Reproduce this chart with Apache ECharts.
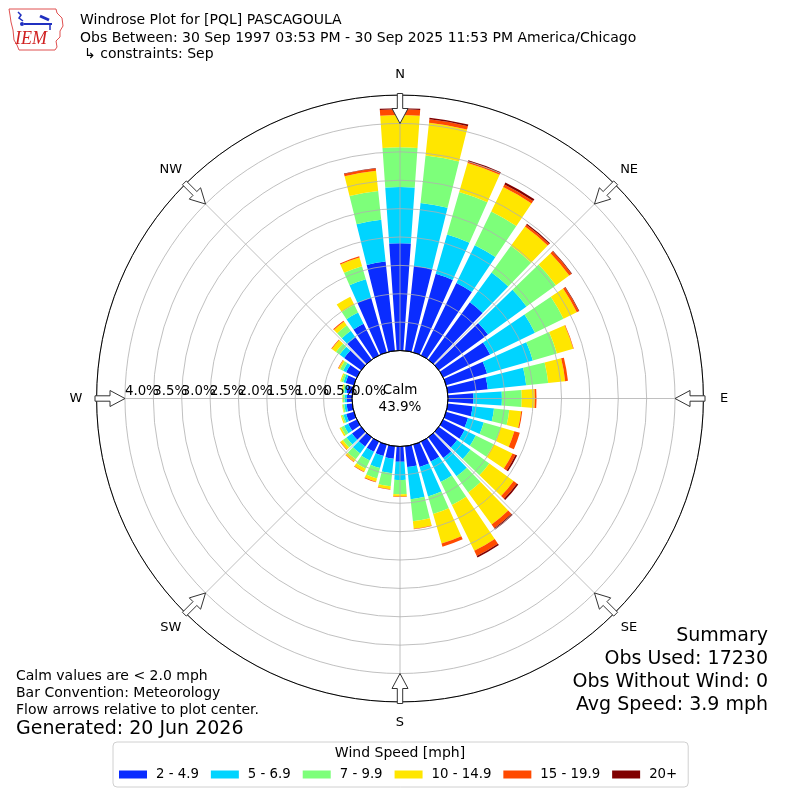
<!DOCTYPE html>
<html><head><meta charset="utf-8">
<script src="https://cdn.jsdelivr.net/npm/echarts@6/dist/echarts.min.js"></script>
<style>html,body{margin:0;padding:0;background:#fff}#c{width:800px;height:800px}</style>
</head><body><div id="c"></div>
<script>
// ---- data (percent of observations), directions every 10 degrees from N clockwise ----
const directions = ['0','10','20','30','40','50','60','70','80','90','100','110','120','130','140','150','160','170',
  '180','190','200','210','220','230','240','250','260','270','280','290','300','310','320','330','340','350'];
const speedBins = ['2 - 4.9','5 - 6.9','7 - 9.9','10 - 14.9','15 - 19.9','20+'];
const binColors = ['#0a2cff','#00d4ff','#7dff7a','#ffe600','#ff4a00','#800000'];
const bin2to5   = [1.89,1.50,1.44,1.42,1.25,1.07,0.92,0.75,0.71,0.45,0.44,0.40,0.42,0.40,0.45,0.39,0.41,0.37,0.27,0.22,0.21,0.20,0.20,0.20,0.17,0.14,0.10,0.09,0.10,0.15,0.21,0.37,0.49,0.62,1.00,1.58];
const bin5to7   = [0.99,1.12,0.72,0.74,0.65,0.84,0.88,0.84,0.68,0.50,0.38,0.29,0.22,0.29,0.40,0.40,0.54,0.57,0.32,0.26,0.22,0.17,0.15,0.12,0.08,0.05,0.04,0.04,0.04,0.04,0.06,0.10,0.14,0.22,0.34,0.74];
const bin7to10  = [0.70,0.84,0.78,0.66,0.58,0.64,0.56,0.44,0.39,0.35,0.27,0.31,0.35,0.41,0.35,0.45,0.32,0.39,0.25,0.23,0.19,0.16,0.13,0.08,0.06,0.03,0.03,0.03,0.03,0.04,0.06,0.08,0.12,0.15,0.24,0.51];
const bin10to15 = [0.57,0.58,0.53,0.48,0.42,0.29,0.26,0.30,0.30,0.23,0.21,0.25,0.37,0.53,0.70,0.90,0.54,0.13,0.04,0.05,0.06,0.06,0.05,0.05,0.03,0.02,0.01,0.01,0.02,0.02,0.03,0.09,0.08,0.16,0.16,0.36];
const bin15to20 = [0.10,0.06,0.03,0.05,0.04,0.05,0.04,0.01,0.05,0.03,0.02,0.10,0.06,0.07,0.08,0.10,0.06,0.01,0.01,0.01,0.01,0.01,0.01,0.01,0,0,0,0,0,0,0.01,0.01,0.02,0,0.02,0.04];
const bin20plus = [0.02,0.03,0.02,0.04,0.02,0.01,0.01,0,0,0,0,0,0.03,0.03,0.03,0.03,0,0,0,0,0,0,0,0,0,0,0,0,0,0,0,0,0,0,0,0.01];
const compassLabels = ['N','NE','E','SE','S','SW','W','NW'];
const calmPct = '43.9%';
const radialMax = 4.5, radialStep = 0.5;

const binData = [bin2to5, bin5to7, bin7to10, bin10to15, bin15to20, bin20plus];

// ---- layout ----
const CX = 400, CY = 398.5, R0 = 48, R1 = 303.4;
const FONT = 'DejaVu Sans';

const chart = echarts.init(document.getElementById('c'), null, {renderer: 'canvas'});

const series = speedBins.map((name, i) => ({
  name, type: 'bar', coordinateSystem: 'polar', polarIndex: 0, stack: 'wind',
  data: binData[i], barCategoryGap: '20%',
  itemStyle: {color: binColors[i]}, emphasis: {disabled: true}, z: 2
}));

const graphics = [];
function txt(x, y, text, size, align, extra) {
  graphics.push(Object.assign({type: 'text', x, y, z: 100, silent: true,
    style: {text, fontFamily: FONT, fontSize: size, fill: '#000',
      align: align || 'left', verticalAlign: 'middle', textAlign: align || 'left', textVerticalAlign: 'middle'}}, extra || {}));
}
// header
txt(80, 20, 'Windrose Plot for [PQL] PASCAGOULA', 14);
txt(80, 38, 'Obs Between: 30 Sep 1997 03:53 PM - 30 Sep 2025 11:53 PM America/Chicago', 14);
txt(84, 54, '\u21b3 constraints: Sep', 14);
// footer notes
txt(16, 676, 'Calm values are < 2.0 mph', 14);
txt(16, 693.5, 'Bar Convention: Meteorology', 14);
txt(16, 710.5, 'Flow arrows relative to plot center.', 14);
txt(16, 729, 'Generated: 20 Jun 2026', 19);
txt(768, 636, 'Summary', 19, 'right');
txt(768, 659, 'Obs Used: 17230', 19, 'right');
txt(768, 682, 'Obs Without Wind: 0', 19, 'right');
txt(768, 705.5, 'Avg Speed: 3.9 mph', 19, 'right');
// calm
txt(CX, 390, 'Calm', 13.5, 'center');
txt(CX, 407, calmPct, 13.5, 'center');
// legend title
txt(400, 753, 'Wind Speed [mph]', 14, 'center');

// compass labels and flow arrows
compassLabels.forEach((lab, k) => {
  const th = k * 45 * Math.PI / 180, s = Math.sin(th), c = Math.cos(th);
  txt(CX + 324 * s, CY - 324 * c, lab, 13, 'center');
  const local = [[305,-2.7],[290,-2.7],[290,-8],[275,0],[290,8],[290,2.7],[305,2.7]];
  const pts = local.map(([a, p]) => [CX + a * s + p * c, CY - a * c + p * s]);
  graphics.push({type: 'polygon', z: 110, silent: true, shape: {points: pts},
    style: {fill: '#fff', stroke: '#333', lineWidth: 1}});
});

// IEM logo
graphics.push({type: 'polyline', z: 100, silent: true,
  shape: {points: [[9,9],[56,9],[57,13],[62,18],[63,26],[60,31],[60,37],[56,41],[57,47],[55,50],[19,50],[17,45],[14,40],[13,30],[11,22],[10,15],[9,9]]},
  style: {stroke: '#e05050', lineWidth: 1, fill: null}});
graphics.push({type: 'line', z: 101, silent: true, shape: {x1: 24, y1: 24, x2: 52, y2: 24}, style: {stroke: '#2030c0', lineWidth: 2}});
graphics.push({type: 'line', z: 101, silent: true, shape: {x1: 40, y1: 16, x2: 49, y2: 20}, style: {stroke: '#2030c0', lineWidth: 3}});
graphics.push({type: 'polyline', z: 101, silent: true, shape: {points: [[18,12],[21,15],[19,18],[23,21]]}, style: {stroke: '#2030c0', lineWidth: 1.5, fill: null}});
graphics.push({type: 'circle', z: 101, silent: true, shape: {cx: 22, cy: 24, r: 2}, style: {fill: '#2030c0'}});
graphics.push({type: 'line', z: 101, silent: true, shape: {x1: 50, y1: 24, x2: 50, y2: 30}, style: {stroke: '#2030c0', lineWidth: 1.5}});
graphics.push({type: 'text', z: 101, silent: true, x: 15, y: 39,
  style: {text: 'IEM', fontFamily: 'Liberation Serif', fontStyle: 'italic', fontSize: 18, fill: '#d02020',
    align: 'left', verticalAlign: 'middle', textAlign: 'left', textVerticalAlign: 'middle'}});

const ringColors = [];
for (let v = 0; v <= radialMax + 1e-9; v += radialStep) ringColors.push(v === 0 ? '#000' : '#b0b0b0');

// radial tick labels split over two label-only axes so that ECharts does not drop overlapping ones
function radialLabelAxis(polarIndex, keepOdd) {
  return {polarIndex, type: 'value', min: 0, max: radialMax, interval: radialStep, z: 6,
    axisLine: {show: false}, axisTick: {show: false}, splitLine: {show: false},
    axisLabel: {show: true, margin: -7, align: 'left', verticalAlign: 'middle', hideOverlap: false,
      showMinLabel: true, showMaxLabel: false,
      fontFamily: FONT, fontSize: 13.3, color: '#000',
      formatter: v => {
        const k = Math.round(v / radialStep);
        if (v >= radialMax - 1e-9 || (k % 2 === 1) !== keepOdd) return '';
        return v.toFixed(1) + '%';
      }}};
}
const hiddenAngle = (polarIndex) => ({polarIndex, type: 'value', min: 0, max: 360, startAngle: 180, clockwise: true,
  axisLine: {show: false}, axisTick: {show: false}, axisLabel: {show: false}, splitLine: {show: false}});

const option = {
  animation: false,
  backgroundColor: '#fff',
  polar: [
    {center: [CX, CY], radius: [R0, R1]},
    {center: [CX, CY], radius: [R0, R1]},
    {center: [CX, CY], radius: [R0, R1]},
    {center: [CX, CY], radius: [R0, R1]}
  ],
  angleAxis: [
    {polarIndex: 0, type: 'category', data: directions, startAngle: 95, clockwise: true,
      boundaryGap: true, axisLine: {show: false}, axisTick: {show: false}, axisLabel: {show: false}, splitLine: {show: false}},
    {polarIndex: 1, type: 'value', min: 0, max: 360, interval: 45, startAngle: 180, clockwise: true, z: 5,
      axisLine: {show: true, lineStyle: {color: '#000', width: 1}}, axisTick: {show: false}, axisLabel: {show: false},
      splitLine: {show: true, lineStyle: {color: '#b0b0b0', width: 0.8}}},
    hiddenAngle(2),
    hiddenAngle(3)
  ],
  radiusAxis: [
    {polarIndex: 0, type: 'value', min: 0, max: radialMax, axisLine: {show: false}, axisTick: {show: false},
      axisLabel: {show: false}, splitLine: {show: false}},
    {polarIndex: 1, type: 'value', min: 0, max: radialMax, interval: radialStep, z: 5,
      axisLine: {show: false}, axisTick: {show: false}, axisLabel: {show: false},
      splitLine: {show: true, lineStyle: {color: ringColors, width: 0.8}}},
    radialLabelAxis(2, false),
    radialLabelAxis(3, true)
  ],
  legend: {
    data: speedBins, left: 113, top: 742, orient: 'horizontal',
    padding: [26, 11, 6, 6], itemWidth: 28, itemHeight: 8, itemGap: 12, icon: 'rect',
    borderColor: '#d0d0d0', borderWidth: 1, borderRadius: 4, backgroundColor: 'transparent',
    selectedMode: false,
    textStyle: {fontFamily: FONT, fontSize: 13.3, color: '#000', padding: [0, 0, 0, 4]}
  },
  series,
  graphic: graphics
};
chart.setOption(option);
</script>
</body></html>
